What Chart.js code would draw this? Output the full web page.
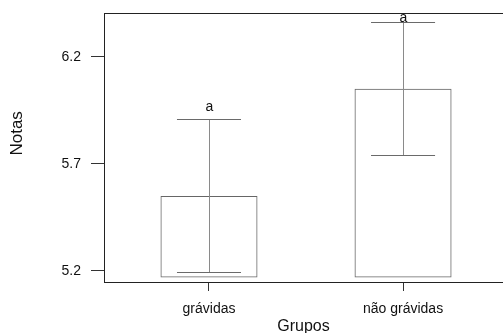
<!DOCTYPE html>
<html>
<head>
<meta charset="utf-8">
<script src="https://cdn.jsdelivr.net/npm/chart.js@4"></script>
<style>
  body { margin: 0; background: #fff; }
</style>
</head>
<body>
<canvas id="grafico" width="503" height="333"></canvas>
<script>
// dados
const grupos = ['grávidas', 'não grávidas'];
const posicoes = [1, 2];
const base = [5.17, 5.17];
const medias = [5.55, 6.05];
const erroMin = [5.195, 5.74];
const erroMax = [5.91, 6.36];
const letras = ['a', 'a'];
const letraY = [5.966, 6.378];
const ticksY = [5.2, 5.7, 6.2];

Chart.defaults.font.family = "'Liberation Sans', Arial, sans-serif";
Chart.defaults.color = '#111';

const barras = posicoes.map((p, i) => ({ x: p, y: [base[i], medias[i]] }));

// desenha a linha de cima, as barras de erro e as letras
const extras = {
    id: 'extras',
    afterDatasetsDraw(chart) {
        const ctx = chart.ctx;
        const x = chart.scales.x;
        const y = chart.scales.y;
        const area = chart.chartArea;
        ctx.save();
        ctx.strokeStyle = '#222';
        ctx.lineWidth = 1;
        ctx.beginPath();
        ctx.moveTo(area.left, Math.round(area.top) + 0.5);
        ctx.lineTo(area.right, Math.round(area.top) + 0.5);
        ctx.stroke();

        for (let i = 0; i < posicoes.length; i++) {
            const cx = Math.round(x.getPixelForValue(posicoes[i])) + 0.5;
            const x1 = x.getPixelForValue(posicoes[i] - 0.165);
            const x2 = x.getPixelForValue(posicoes[i] + 0.165);
            const yTop = Math.round(y.getPixelForValue(erroMax[i])) + 0.5;
            const yBot = Math.round(y.getPixelForValue(erroMin[i])) + 0.5;
            ctx.strokeStyle = '#8a8a8a';
            ctx.beginPath();
            ctx.moveTo(cx, yTop);
            ctx.lineTo(cx, yBot);
            ctx.stroke();
            ctx.strokeStyle = '#6a6a6a';
            ctx.beginPath();
            ctx.moveTo(x1, yTop);
            ctx.lineTo(x2, yTop);
            ctx.moveTo(x1, yBot);
            ctx.lineTo(x2, yBot);
            ctx.stroke();

            ctx.fillStyle = '#111';
            ctx.font = "14px 'Liberation Sans', Arial, sans-serif";
            ctx.textAlign = 'center';
            ctx.textBaseline = 'middle';
            ctx.fillText(letras[i], cx, y.getPixelForValue(letraY[i]));
        }
        ctx.restore();
    }
};

new Chart(document.getElementById('grafico'), {
    type: 'bar',
    data: {
        datasets: [{
            data: barras,
            backgroundColor: 'rgba(255,255,255,0)',
            borderColor: '#666',
            borderWidth: 1,
            borderSkipped: false,
            barPercentage: 0.5,
            categoryPercentage: 1
        }]
    },
    options: {
        responsive: false,
        animation: false,
        layout: { padding: { top: 13, right: 0, left: 0, bottom: 0 } },
        plugins: {
            legend: { display: false },
            tooltip: { enabled: false }
        },
        scales: {
            x: {
                type: 'linear',
                min: 0.459,
                max: 2.515,
                offset: false,
                afterBuildTicks: (axis) => { axis.ticks = posicoes.map(v => ({ value: v })); },
                afterFit: (axis) => {
                    axis.height = 51;
                    axis.paddingLeft = 0;
                    axis.paddingRight = 0;
                },
                ticks: {
                    font: { size: 14 },
                    padding: 10,
                    maxRotation: 0,
                    callback: (v) => grupos[posicoes.indexOf(v)]
                },
                grid: {
                    offset: false,
                    drawOnChartArea: false,
                    tickLength: 9,
                    tickColor: '#333'
                },
                border: { color: '#222', width: 1 },
                title: {
                    display: true,
                    text: 'Grupos',
                    font: { size: 16, lineHeight: 0.8 },
                    padding: { top: 0, bottom: 0 }
                }
            },
            y: {
                min: 5.1485,
                max: 6.404,
                afterBuildTicks: (axis) => { axis.ticks = ticksY.map(v => ({ value: v })); },
                afterFit: (axis) => {
                    axis.width = 104;
                    axis.paddingTop = 0;
                    axis.paddingBottom = 0;
                },
                ticks: {
                    font: { size: 14 },
                    padding: 10,
                    callback: (v) => v.toFixed(1)
                },
                grid: {
                    drawOnChartArea: false,
                    tickLength: 13,
                    tickColor: '#333'
                },
                border: { color: '#222', width: 1 },
                title: {
                    display: true,
                    text: '      Notas',
                    font: { size: 17, lineHeight: 1 },
                    padding: { top: 9, bottom: 0 }
                }
            }
        }
    },
    plugins: [extras]
});
</script>
</body>
</html>
